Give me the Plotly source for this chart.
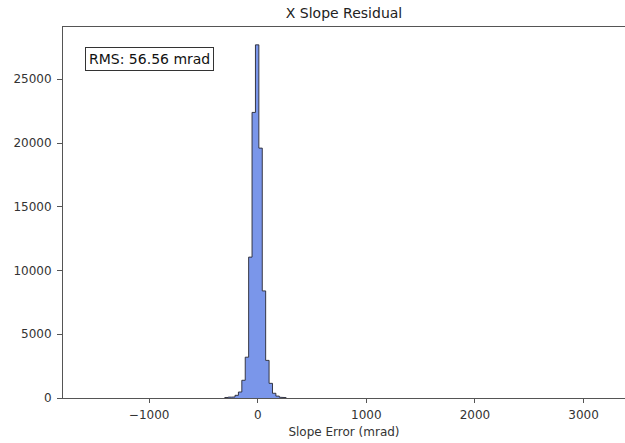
import plotly.graph_objects as go

# Histogram definition
bin_start = -1558.0      # left edge of first bin (mrad)
bin_width = 31.37        # bin width (mrad)
n_bins = 150

# non-zero bin counts: bin index -> count
core_bins = [40, 41, 42, 43, 44, 45, 46, 47, 48, 49, 50, 51, 52, 53, 54, 55, 56, 57]
core_counts = [40, 70, 80, 210, 470, 1390, 3200, 11050, 22400, 27700, 19600, 8400, 2950, 1150, 370, 150, 60, 30]

rms_text = "RMS: 56.56 mrad"
title_text = "X Slope Residual"
x_label = "Slope Error (mrad)"
x_ticks = [-1000, 0, 1000, 2000, 3000]
x_tick_labels = ["\u22121000", "0", "1000", "2000", "3000"]
y_ticks = [0, 5000, 10000, 15000, 20000, 25000]
y_tick_labels = ["0", "5000", "10000", "15000", "20000", "25000"]

counts = [0] * n_bins
for b, c in zip(core_bins, core_counts):
    counts[b] = c
edges = [bin_start + i * bin_width for i in range(n_bins + 1)]

# step outline (stepfilled histogram) over the populated bins
first, last = min(core_bins), max(core_bins)
xs = [edges[first]]
ys = [0]
for i in range(first, last + 1):
    xs += [edges[i], edges[i + 1]]
    ys += [counts[i], counts[i]]
xs.append(edges[last + 1])
ys.append(0)

fig = go.Figure()
fig.add_trace(go.Scatter(
    x=xs, y=ys, mode="lines", fill="tozeroy",
    fillcolor="rgb(122,150,234)",
    line=dict(color="rgba(40,40,50,0.9)", width=1),
    hoverinfo="skip", showlegend=False,
))

font = "DejaVu Sans"
fig.update_layout(
    width=625, height=443,
    margin=dict(l=63, r=0, t=27, b=45, autoexpand=False),
    plot_bgcolor="white", paper_bgcolor="white",
    font=dict(family=font, color="#333333", size=12),
    title=dict(text=title_text, x=0.5, xref="paper", y=1 - 13 / 443, yref="container",
               xanchor="center", yanchor="middle", font=dict(size=14, color="#222222")),
    xaxis=dict(
        range=[-1793, 3382], tickvals=x_ticks, ticktext=x_tick_labels,
        showgrid=False, zeroline=False, showline=True, mirror=True, automargin=False,
        linecolor="#555555", linewidth=1, ticks="outside", ticklen=4, tickcolor="#555555",
        tickfont=dict(size=12, color="#333333"), ticklabelstandoff=2,
        title=dict(text=x_label, font=dict(size=12, color="#333333"), standoff=6),
    ),
    yaxis=dict(
        range=[0, 29100], tickvals=y_ticks, ticktext=y_tick_labels,
        showgrid=False, zeroline=False, showline=True, mirror=False, automargin=False,
        linecolor="#555555", linewidth=1, ticks="outside", ticklen=5, tickcolor="#555555",
        tickfont=dict(size=12, color="#333333"), ticklabelstandoff=3,
    ),
    annotations=[dict(
        text=rms_text, xref="paper", yref="paper", x=0.040, y=0.945,
        xanchor="left", yanchor="top", showarrow=False,
        font=dict(size=14, color="#111111", family=font),
        bgcolor="white", bordercolor="#333333", borderwidth=1, borderpad=3,
    )],
)

fig.write_html(
    "out.html",
    config={"displayModeBar": False},
    post_script="document.body.style.margin='0';document.body.style.overflow='hidden';",
)
